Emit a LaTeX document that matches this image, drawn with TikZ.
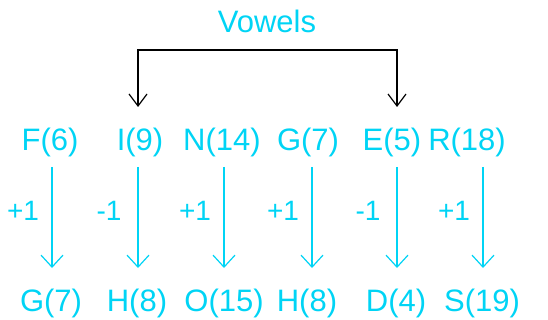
\documentclass[tikz,border=0pt]{standalone}
\usepackage{fontspec}
\setmainfont{Liberation Sans}
\usetikzlibrary{arrows.meta}
\definecolor{letcyan}{RGB}{0,212,245}

\begin{document}
\begin{tikzpicture}[x=1pt,y=-1pt,
  letter/.style={text=letcyan,font=\fontsize{31}{34}\selectfont,inner sep=0pt},
  shift label/.style={text=letcyan,font=\fontsize{28}{31}\selectfont,inner sep=0pt},
  shift arrow/.style={draw=letcyan,line width=2.6pt,-{Straight Barb[length=12pt,width=22pt,line width=1.2pt]}},
  vowel arrow/.style={draw=black,line width=2.6pt,{Straight Barb[length=12pt,width=18pt,line width=1.2pt]}-{Straight Barb[length=12pt,width=18pt,line width=1.2pt]}}]

  \useasboundingbox (0,0) rectangle (548,320);

  % Vowels

  \node [letter] (vow) at (267,21) {Vowels};
  \coordinate (vl) at (138,107);
  \coordinate (vr) at (397,107);
  \draw [vowel arrow] (vl) -- ++(0,-57) -| (vr);

  % Letters and their shifts

  \foreach \i/\tx/\top/\bx/\bot/\ax/\lab in {
      1/50/F(6)/51/G(7)/52/+1,
      2/140/I(9)/137/H(8)/138/-1,
      3/222/N(14)/224/O(15)/224/+1,
      4/308/G(7)/307/H(8)/312/+1,
      5/392/E(5)/396/D(4)/397/-1,
      6/467/R(18)/482/S(19)/483/+1} {
    \node [letter] (t\i) at (\tx,142) {\top};
    \node [letter] (b\i) at (\bx,303) {\bot};
    \coordinate (s\i) at (\ax,167);
    \coordinate (e\i) at (\ax,268);
    \draw [shift arrow] (s\i) -- (e\i);
    \node [shift label] (l\i) at (\ax-29,211) {\lab};
  }
\end{tikzpicture}
\end{document}
